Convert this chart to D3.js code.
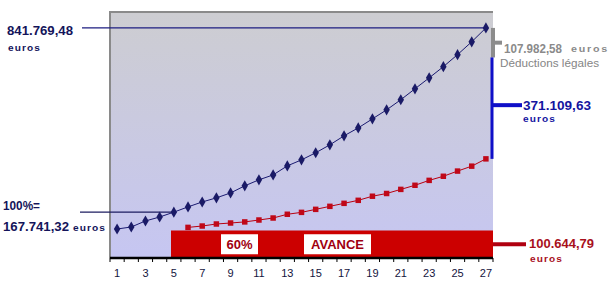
<!DOCTYPE html>
<html>
<head>
<meta charset="utf-8">
<script src="https://cdn.jsdelivr.net/npm/d3@7"></script>
<style>
  body { margin: 0; background: #fff; }
  svg { display: block; }
  text { font-family: "Liberation Sans", Arial, sans-serif; }
</style>
</head>
<body>
<svg id="chart" width="612" height="284"></svg>
<script>
'use strict';
// years on the axis
const years = d3.range(1, 28);
// total capital (blue diamonds)
const capital = [106000, 113500, 135500, 150000, 167741.32, 187000, 205000, 220000, 238000, 264000,
                 286000, 304000, 337000, 359000, 385000, 414000, 447000, 476000, 509000, 542000,
                 579000, 619000, 659000, 700000, 744000, 791000, 841769.48];
// red series, hidden behind the advance band for the first years
const reste = [null, null, null, null, null, 112000, 117000, 124400, 128000, 132000,
               139000, 146300, 160000, 167000, 178000, 189000, 200000, 211000, 226000, 236000,
               251000, 266000, 284000, 299000, 318000, 336000, 362677.27];
const tickLabels = years.filter(d => d % 2 === 1);
const total = 841769.48;
const base100 = 167741.32;
const deductions = 107982.58;
const ecart = 371109.63;
const avance = 100644.79;
const avanceStart = 5;

const svg = d3.select('#chart');
const plot = {left: 110, right: 493, top: 12, bottom: 258};

const x = d3.scaleBand().domain(years).range([plot.left, plot.right]).padding(0);
const cx = d => x(d) + x.bandwidth() / 2;
const y = d3.scaleLinear().domain([0, 900000]).range([plot.bottom, plot.top]);

const defs = svg.append('defs');
const grad = defs.append('linearGradient').attr('id', 'bg').attr('x1', 0).attr('y1', 0).attr('x2', 0).attr('y2', 1);
grad.append('stop').attr('offset', '0%').attr('stop-color', '#cdcdd1');
grad.append('stop').attr('offset', '100%').attr('stop-color', '#c6c6f2');

svg.append('rect')
  .attr('x', plot.left).attr('y', plot.top)
  .attr('width', plot.right - plot.left).attr('height', plot.bottom - plot.top)
  .attr('fill', 'url(#bg)');
svg.append('path')
  .attr('d', `M${plot.left},${plot.bottom}V${plot.top}H${plot.right}`)
  .attr('fill', 'none').attr('stroke', '#8a8a8a').attr('stroke-width', 2);

// reference lines
const navy = '#14145a';
svg.append('line').attr('x1', 82).attr('x2', cx(27)).attr('y1', y(total)).attr('y2', y(total))
  .attr('stroke', '#1c1c80').attr('stroke-width', 1.2);
svg.append('line').attr('x1', 80).attr('x2', cx(avanceStart)).attr('y1', y(base100)).attr('y2', y(base100))
  .attr('stroke', '#1c1c60').attr('stroke-width', 1.2);

// series
const line = d3.line().defined(d => d[1] != null).x(d => cx(d[0])).y(d => y(d[1]));
const blueData = years.map((d, i) => [d, capital[i]]);
const redData = years.map((d, i) => [d, reste[i]]).filter(d => d[1] != null);

svg.append('path').datum(redData).attr('d', line).attr('fill', 'none').attr('stroke', '#b80010').attr('stroke-width', 1);
svg.selectAll('.rm').data(redData).join('path').attr('class', 'rm')
  .attr('transform', d => `translate(${cx(d[0])},${y(d[1])})`)
  .attr('d', d3.symbol(d3.symbolSquare, 30)).attr('fill', '#c00818');

svg.append('path').datum(blueData).attr('d', line).attr('fill', 'none').attr('stroke', '#1a1a70').attr('stroke-width', 1);
svg.selectAll('.bm').data(blueData).join('path').attr('class', 'bm')
  .attr('transform', d => `translate(${cx(d[0])},${y(d[1])})`)
  .attr('d', d3.symbol(d3.symbolDiamond, 36)).attr('fill', '#1a1a66');

// advance band
const bandX0 = x(avanceStart) + x.bandwidth() * 0.3;
svg.append('rect').attr('x', bandX0).attr('y', y(avance))
  .attr('width', plot.right - bandX0).attr('height', plot.bottom - y(avance))
  .attr('fill', '#cc0000');
const bandMid = (y(avance) + plot.bottom) / 2;
function boxLabel(txt, x0, w) {
  svg.append('rect').attr('x', x0).attr('y', bandMid - 10).attr('width', w).attr('height', 20).attr('fill', '#fff');
  svg.append('text').attr('x', x0 + w / 2).attr('y', bandMid + 5).attr('text-anchor', 'middle')
    .attr('font-size', 13).attr('font-weight', 'bold').attr('fill', '#a00010').text(txt);
}
boxLabel('60%', 221, 37);
boxLabel('AVANCE', 304, 67);

// x axis
const axis = svg.append('g').attr('transform', `translate(0,${plot.bottom})`);
axis.append('line').attr('x1', plot.left).attr('x2', plot.right).attr('stroke', '#000').attr('stroke-width', 2.5);
axis.selectAll('.tk').data(years.concat([28])).join('line')
  .attr('x1', d => d === 28 ? plot.right : x(d)).attr('x2', d => d === 28 ? plot.right : x(d))
  .attr('y1', 0).attr('y2', 4).attr('stroke', '#000').attr('stroke-width', 1);
axis.selectAll('.lb').data(tickLabels).join('text')
  .attr('x', d => cx(d)).attr('y', 19).attr('text-anchor', 'middle')
  .attr('font-size', 11).attr('fill', '#141440').text(d => d);

// right side brackets
const xr = plot.right;
svg.append('line').attr('x1', xr).attr('x2', xr).attr('y1', y(total)).attr('y2', y(total - deductions))
  .attr('stroke', '#8c8c8c').attr('stroke-width', 4);
svg.append('line').attr('x1', xr).attr('x2', 502).attr('y1', y(total - deductions / 2)).attr('y2', y(total - deductions / 2))
  .attr('stroke', '#8c8c8c').attr('stroke-width', 4);
svg.append('line').attr('x1', xr - 1).attr('x2', xr - 1).attr('y1', y(total - deductions)).attr('y2', y(total - deductions - ecart))
  .attr('stroke', '#1010c8').attr('stroke-width', 3);
const ecMid = y(total - deductions - ecart / 2) - 3;
svg.append('line').attr('x1', xr).attr('x2', 522).attr('y1', ecMid).attr('y2', ecMid)
  .attr('stroke', '#1010c8').attr('stroke-width', 4);
svg.append('line').attr('x1', xr).attr('x2', 526).attr('y1', bandMid).attr('y2', bandMid)
  .attr('stroke', '#b00010').attr('stroke-width', 4);

// annotations
function label(txt, x0, yb, size, color, w, opts) {
  opts = opts || {};
  const t = svg.append('text').attr('x', x0).attr('y', yb).attr('font-size', size)
    .attr('font-weight', opts.weight || 'bold').attr('fill', color).text(txt);
  if (opts.spacing) t.attr('letter-spacing', opts.spacing);
  if (w) t.attr('textLength', w).attr('lengthAdjust', 'spacingAndGlyphs');
  return t;
}
const fmt = v => v.toLocaleString('de-DE', {minimumFractionDigits: 2, maximumFractionDigits: 2});

label(fmt(total), 7, 35, 13.5, navy, 66);
label('euros', 8, 51, 9, navy, 33, {spacing: 1});
label('100%=', 3, 210, 13, navy, 37);
label(fmt(base100), 3, 231, 13, navy, 66);
label('euros', 73, 231, 9.5, navy, 33, {spacing: 1});

label(fmt(deductions), 504, 53, 12, '#8a8a8a', 58);
label('euros', 571, 52, 9, '#8a8a8a', 38, {spacing: 1.5});
label('Déductions légales', 500, 67, 11.5, '#858585', 99, {weight: 'normal'});

label(fmt(ecart), 523, 110, 13.5, '#1414a0', 68);
label('euros', 523, 122, 9, '#1414a0', 33, {spacing: 1});

label(fmt(avance), 529, 248, 13, '#a8101c', 65);
label('euros', 530, 262, 9, '#a8101c', 33, {spacing: 1});
</script>
</body>
</html>
